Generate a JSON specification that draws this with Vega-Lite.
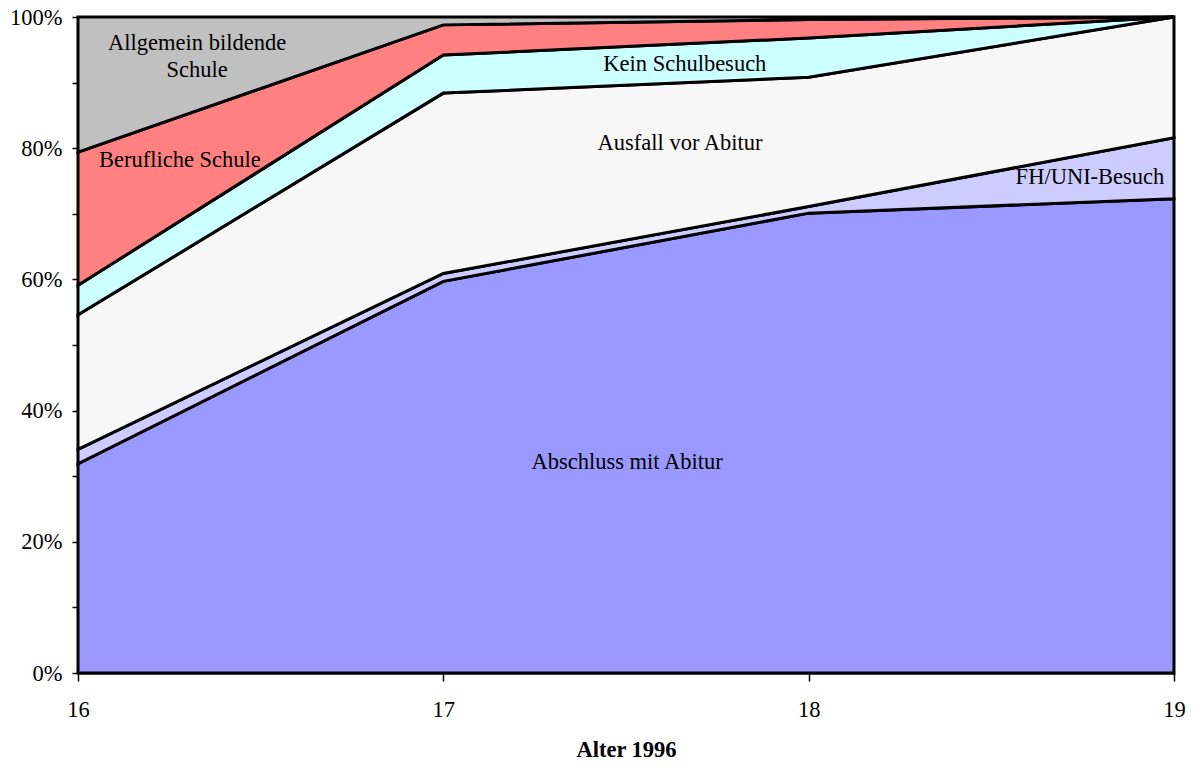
{
  "$schema": "https://vega.github.io/schema/vega-lite/v6.json",
  "width": 1096,
  "height": 656,
  "autosize": {"type": "none"},
  "padding": {"left": 78, "top": 17, "right": 19, "bottom": 92},
  "background": "white",
  "config": {
    "view": {"stroke": null},
    "font": "Liberation Serif"
  },
  "datasets": {
    "shares": [
      {"alter": 16, "gruppe": "Abschluss mit Abitur", "o": 1, "anteil": 31.9},
      {"alter": 16, "gruppe": "FH/UNI-Besuch", "o": 2, "anteil": 2.2},
      {"alter": 16, "gruppe": "Ausfall vor Abitur", "o": 3, "anteil": 20.5},
      {"alter": 16, "gruppe": "Kein Schulbesuch", "o": 4, "anteil": 4.5},
      {"alter": 16, "gruppe": "Berufliche Schule", "o": 5, "anteil": 20.3},
      {"alter": 16, "gruppe": "Allgemein bildende Schule", "o": 6, "anteil": 20.6},
      {"alter": 17, "gruppe": "Abschluss mit Abitur", "o": 1, "anteil": 59.7},
      {"alter": 17, "gruppe": "FH/UNI-Besuch", "o": 2, "anteil": 1.2},
      {"alter": 17, "gruppe": "Ausfall vor Abitur", "o": 3, "anteil": 27.5},
      {"alter": 17, "gruppe": "Kein Schulbesuch", "o": 4, "anteil": 5.8},
      {"alter": 17, "gruppe": "Berufliche Schule", "o": 5, "anteil": 4.6},
      {"alter": 17, "gruppe": "Allgemein bildende Schule", "o": 6, "anteil": 1.2},
      {"alter": 18, "gruppe": "Abschluss mit Abitur", "o": 1, "anteil": 70.1},
      {"alter": 18, "gruppe": "FH/UNI-Besuch", "o": 2, "anteil": 1.0},
      {"alter": 18, "gruppe": "Ausfall vor Abitur", "o": 3, "anteil": 19.7},
      {"alter": 18, "gruppe": "Kein Schulbesuch", "o": 4, "anteil": 6.0},
      {"alter": 18, "gruppe": "Berufliche Schule", "o": 5, "anteil": 2.8},
      {"alter": 18, "gruppe": "Allgemein bildende Schule", "o": 6, "anteil": 0.4},
      {"alter": 19, "gruppe": "Abschluss mit Abitur", "o": 1, "anteil": 72.3},
      {"alter": 19, "gruppe": "FH/UNI-Besuch", "o": 2, "anteil": 9.3},
      {"alter": 19, "gruppe": "Ausfall vor Abitur", "o": 3, "anteil": 18.4},
      {"alter": 19, "gruppe": "Kein Schulbesuch", "o": 4, "anteil": 0},
      {"alter": 19, "gruppe": "Berufliche Schule", "o": 5, "anteil": 0},
      {"alter": 19, "gruppe": "Allgemein bildende Schule", "o": 6, "anteil": 0}
    ],
    "labels": [
      {"x": 16.326, "y": 96.1, "text": "Allgemein bildende"},
      {"x": 16.326, "y": 91.9, "text": "Schule"},
      {"x": 16.279, "y": 78.2, "text": "Berufliche Schule"},
      {"x": 17.661, "y": 92.9, "text": "Kein Schulbesuch"},
      {"x": 17.648, "y": 80.8, "text": "Ausfall vor Abitur"},
      {"x": 18.77, "y": 75.6, "text": "FH/UNI-Besuch"},
      {"x": 17.503, "y": 32.2, "text": "Abschluss mit Abitur"}
    ]
  },
  "layer": [
    {
      "data": {"name": "shares"},
      "mark": {"type": "area", "stroke": "black", "strokeWidth": 3, "strokeJoin": "miter", "fillOpacity": 1},
      "encoding": {
        "x": {
          "field": "alter", "type": "quantitative",
          "scale": {"domain": [16, 19], "nice": false, "zero": false},
          "axis": {
            "values": [16, 17, 18, 19], "grid": false, "title": "Alter 1996",
            "titleFontWeight": "bold", "titleFontSize": 22.5, "titleColor": "black", "titlePadding": 18,
            "labelFontSize": 22.5, "labelColor": "black", "labelPadding": 17, "labelFlush": false,
            "tickColor": "black", "tickSize": 8, "tickWidth": 1.5,
            "domainColor": "black", "domainWidth": 2, "format": "d"
          }
        },
        "y": {
          "field": "anteil", "type": "quantitative", "stack": "zero",
          "scale": {"domain": [0, 100], "nice": false},
          "axis": {
            "values": [0, 5, 10, 15, 20, 25, 30, 35, 40, 45, 50, 55, 60, 65, 70, 75, 80, 85, 90, 95, 100],
            "labelExpr": "datum.value % 20 === 0 ? datum.value + '%' : ''",
            "grid": false, "title": null, "labelFlush": false,
            "labelFontSize": 22.5, "labelColor": "black", "labelPadding": 10,
            "tickColor": "black", "tickSize": 6, "tickWidth": 1.5,
            "domainColor": "black", "domainWidth": 2
          }
        },
        "color": {
          "field": "gruppe", "type": "nominal",
          "scale": {
            "domain": ["Abschluss mit Abitur", "FH/UNI-Besuch", "Ausfall vor Abitur", "Kein Schulbesuch", "Berufliche Schule", "Allgemein bildende Schule"],
            "range": ["#9999ff", "#ccccff", "#f7f7f7", "#ccffff", "#ff8080", "#c0c0c0"]
          },
          "legend": null
        },
        "order": {"field": "o", "type": "quantitative"}
      }
    },
    {
      "data": {"name": "labels"},
      "mark": {"type": "text", "fontSize": 22.5, "color": "black", "align": "center", "baseline": "middle"},
      "encoding": {
        "x": {"field": "x", "type": "quantitative"},
        "y": {"field": "y", "type": "quantitative"},
        "text": {"field": "text"}
      }
    }
  ]
}
